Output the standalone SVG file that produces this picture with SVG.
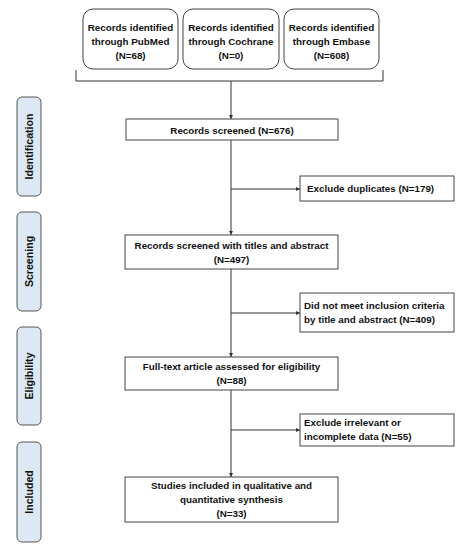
<svg xmlns="http://www.w3.org/2000/svg" width="471" height="550" viewBox="0 0 471 550">
<style>
text{font-family:"Liberation Sans",Arial,sans-serif;font-weight:bold;font-size:9.8px;fill:#111}
.c{text-anchor:middle}
.s{font-size:10.6px}
.box{fill:#fff;stroke:#444;stroke-width:1}
.side{fill:#dce8f4;stroke:#555;stroke-width:1}
.ln{fill:none;stroke:#333;stroke-width:1}
</style>
<defs>
<marker id="ah" viewBox="0 0 6 6" refX="6" refY="3" markerWidth="4" markerHeight="4" orient="auto" markerUnits="userSpaceOnUse"><path d="M0,0L6,3L0,6z" fill="#333"/></marker>
</defs>
<rect width="471" height="550" fill="#fff"/>
<g id="connectors">
<path class="ln" d="M76,70V81H383V70"/>
<path class="ln" d="M231,81V119" marker-end="url(#ah)"/>
<path class="ln" d="M231,140V235" marker-end="url(#ah)"/>
<path class="ln" d="M231,189H300" marker-end="url(#ah)"/>
<path class="ln" d="M231,269V357" marker-end="url(#ah)"/>
<path class="ln" d="M231,313H300" marker-end="url(#ah)"/>
<path class="ln" d="M231,390V477" marker-end="url(#ah)"/>
<path class="ln" d="M231,430H300" marker-end="url(#ah)"/>
</g>
<g id="pubmed"><rect class="box" x="83" y="9" width="95" height="60" rx="10"/><text class="c" x="130.5" y="31">Records identified</text><text class="c" x="130.5" y="45">through PubMed</text><text class="c" x="130.5" y="59">(N=68)</text></g>
<g id="cochrane"><rect class="box" x="183" y="9" width="96" height="60" rx="10"/><text class="c" x="231" y="31">Records identified</text><text class="c" x="231" y="45">through Cochrane</text><text class="c" x="231" y="59">(N=0)</text></g>
<g id="embase"><rect class="box" x="284" y="9" width="95" height="60" rx="10"/><text class="c" x="331.5" y="31">Records identified</text><text class="c" x="331.5" y="45">through Embase</text><text class="c" x="331.5" y="59">(N=608)</text></g>
<g id="identification"><rect class="side" x="17" y="97" width="24" height="99" rx="5"/><text class="c s" transform="translate(33,146.5) rotate(-90)">Identification</text></g>
<g id="screening"><rect class="side" x="17" y="212" width="24" height="99" rx="5"/><text class="c s" transform="translate(33,261.5) rotate(-90)">Screening</text></g>
<g id="eligibility"><rect class="side" x="17" y="327" width="24" height="98" rx="5"/><text class="c s" transform="translate(33,376) rotate(-90)">Eligibility</text></g>
<g id="included"><rect class="side" x="17" y="442" width="24" height="100" rx="5"/><text class="c s" transform="translate(33,492) rotate(-90)">Included</text></g>
<g id="screened"><rect class="box" x="126" y="119" width="212" height="21"/><text class="c" x="232" y="134">Records screened (N=676)</text></g>
<g id="duplicates"><rect class="box" x="300" y="176" width="154" height="25"/><text x="307" y="192">Exclude duplicates (N=179)</text></g>
<g id="titles"><rect class="box" x="125" y="235" width="213" height="34"/><text class="c" x="231.5" y="249">Records screened with titles and abstract</text><text class="c" x="231.5" y="263">(N=497)</text></g>
<g id="notmeet"><rect class="box" x="300" y="293" width="154" height="39"/><text x="304" y="309">Did not meet inclusion criteria</text><text x="304" y="323">by title and abstract (N=409)</text></g>
<g id="fulltext"><rect class="box" x="125" y="357" width="213" height="33"/><text class="c" x="231.5" y="370">Full-text article assessed for eligibility</text><text class="c" x="231.5" y="384">(N=88)</text></g>
<g id="irrelevant"><rect class="box" x="300" y="414" width="154" height="32"/><text x="304" y="426">Exclude irrelevant or</text><text x="304" y="440">incomplete data (N=55)</text></g>
<g id="studies"><rect class="box" x="125" y="477" width="213" height="45"/><text class="c" x="231.5" y="489">Studies included in qualitative and</text><text class="c" x="231.5" y="503">quantitative synthesis</text><text class="c" x="231.5" y="517">(N=33)</text></g>
</svg>
